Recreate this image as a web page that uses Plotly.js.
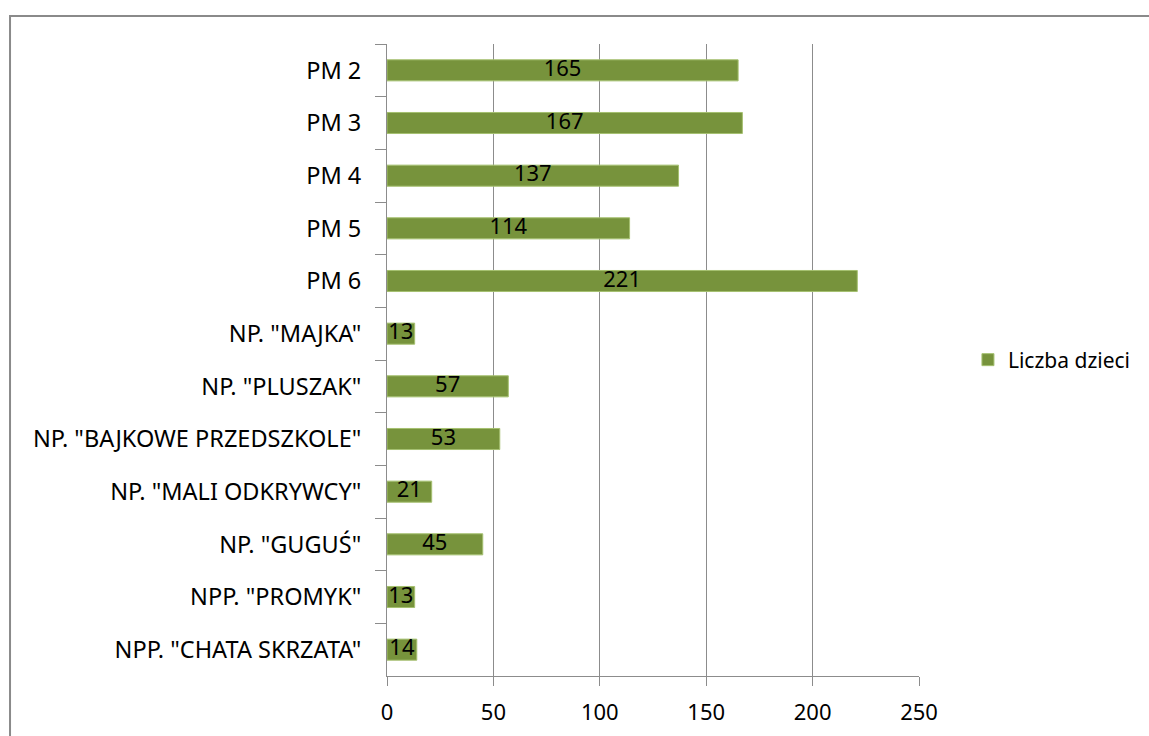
<!DOCTYPE html>
<html><head><meta charset="utf-8">
<script src="https://cdn.plot.ly/plotly-3.0.1.min.js"></script>
<style>html,body{margin:0;padding:0;background:#fff}#chart{width:1149px;height:736px}</style>
</head><body><div id="chart"></div>
<script>
const categories = ['PM 2','PM 3','PM 4','PM 5','PM 6','NP. "MAJKA"','NP. "PLUSZAK"','NP. "BAJKOWE PRZEDSZKOLE"','NP. "MALI ODKRYWCY"','NP. "GUGUŚ"','NPP. "PROMYK"','NPP. "CHATA SKRZATA"'];
const values = [165,167,137,114,221,13,57,53,21,45,13,14];
const seriesName = 'Liczba dzieci';
const xTicks = [0,50,100,150,200,250];

const FONT = 'Noto Sans, sans-serif';
const bars = {
  type:'bar', orientation:'h', y:categories, x:values, name:seriesName,
  marker:{color:'#77933C', line:{color:'#A5C070', width:1}},
  width:0.4, textposition:'none', hoverinfo:'x+y'
};
const labels = {
  type:'scatter', mode:'text', y:categories, x:values.map(v=>v/2),
  text:values.map(String), textfont:{family:FONT,size:22,color:'#000'},
  showlegend:false, hoverinfo:'skip', cliponaxis:false
};
const layout = {
  width:1149, height:736,
  margin:{l:387, r:230, t:44, b:60, autoexpand:false},
  paper_bgcolor:'#fff', plot_bgcolor:'#fff',
  font:{family:FONT, size:19, color:'#000'},
  showlegend:true,
  legend:{x:1.092, y:0.5, xanchor:'left', yanchor:'middle', font:{size:21}, bgcolor:'rgba(0,0,0,0)', itemwidth:30},
  xaxis:{range:[0,250], tickvals:xTicks, showgrid:true, gridcolor:'#8c8c8c', gridwidth:1,
         ticks:'outside', ticklen:9, tickcolor:'#8c8c8c', showline:true, linecolor:'#8c8c8c', linewidth:1,
         zeroline:false, fixedrange:true, tickfont:{size:22}, ticklabelstandoff:8},
  yaxis:{type:'category', range:[11.5,-0.5], autorange:false, tickson:'boundaries', ticks:'outside', ticklen:11,
         tickcolor:'#8c8c8c', showline:true, linecolor:'#8c8c8c', linewidth:1, showgrid:false,
         fixedrange:true, tickfont:{size:23.5}, ticklabelstandoff:20},
  shapes:[{type:'rect', xref:'paper', yref:'paper', x0:-0.7086, x1:1.5, y0:-0.2, y1:1.0442,
           line:{color:'#8a8a8a', width:2}, fillcolor:'rgba(0,0,0,0)', layer:'below'}]
};
Plotly.newPlot('chart',[bars,labels],layout,{displayModeBar:false,staticPlot:true});
</script></body></html>
